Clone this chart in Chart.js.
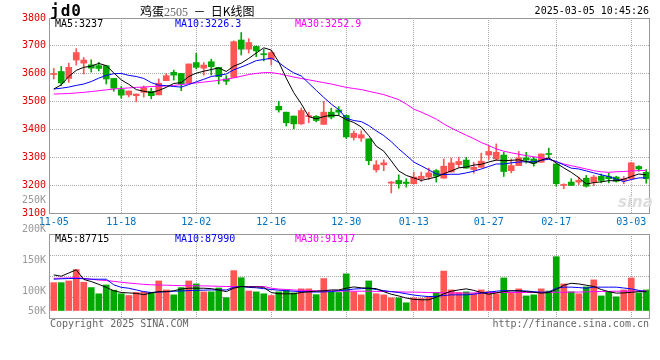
<!DOCTYPE html>
<html>
<head>
<meta charset="utf-8">
<script src="https://cdn.jsdelivr.net/npm/chart.js@4.4.1/dist/chart.umd.min.js"></script>
<style>
  body { margin: 0; background: #fff; }
  #wrap { position: relative; width: 660px; height: 360px; overflow: hidden;
          font-family: "DejaVu Sans Mono", monospace; font-size: 10px; }
  canvas { position: absolute; left: 0; top: 0; }
  .t { position: absolute; white-space: pre; line-height: 10px; }
</style>
</head>
<body>
<div id="wrap">
  <canvas id="volChart" width="660" height="360"></canvas>
  <canvas id="klineChart" width="660" height="360"></canvas>

  <div class="t" style="left:50px;top:3px;font-weight:bold;font-size:16px;line-height:16px;letter-spacing:1px;">jd0</div>
  <div class="t" style="left:140px;top:4px;font-size:12px;line-height:13px;font-family:'Noto Sans CJK SC';">鸡蛋<span style="color:#666;font-family:'Liberation Serif';font-size:12px;">2505</span>  －  日K线图</div>
  <div class="t" style="right:11px;top:6px;">2025-03-05 10:45:26</div>

  <div class="t" style="left:55px;top:19px;color:#000;">MA5:3237</div>
  <div class="t" style="left:175px;top:19px;color:#0000ff;">MA10:3226.3</div>
  <div class="t" style="left:295px;top:19px;color:#ff00ff;">MA30:3252.9</div>

  <div class="t" style="left:55px;top:234px;color:#000;">MA5:87715</div>
  <div class="t" style="left:175px;top:234px;color:#0000ff;">MA10:87990</div>
  <div class="t" style="left:295px;top:234px;color:#ff00ff;">MA30:91917</div>

  <div id="volLabels"></div>

  <div class="t" style="left:618px;top:193px;font:italic bold 15px 'DejaVu Sans';color:#ddd;">sina</div>

  <div class="t" style="left:50px;top:319px;color:#666;">Copyright 2025 SINA.COM</div>
  <div class="t" style="right:11px;top:319px;color:#666;">http://finance.sina.com.cn</div>
</div>

<script>
// trading days shown
const dates = [
  "11-05","11-06","11-07","11-08","11-11","11-12","11-13","11-14","11-15","11-18",
  "11-19","11-20","11-21","11-22","11-25","11-26","11-27","11-28","11-29","12-02",
  "12-03","12-04","12-05","12-06","12-09","12-10","12-11","12-12","12-13","12-16",
  "12-17","12-18","12-19","12-20","12-23","12-24","12-25","12-26","12-27","12-30",
  "12-31","01-02","01-03","01-06","01-07","01-08","01-09","01-10","01-13","01-14",
  "01-15","01-16","01-17","01-20","01-21","01-22","01-23","01-24","01-27","02-05",
  "02-06","02-07","02-10","02-11","02-12","02-13","02-14","02-17","02-18","02-19",
  "02-20","02-21","02-24","02-25","02-26","02-27","02-28","03-03","03-04","03-05"
];
const shownDates = ["11-05","11-18","12-02","12-16","12-30","01-13","01-27","02-17","03-03"];

const opens = [3597,3608,3583,3649,3638,3632,3629,3629,3583,3543,
  3524,3521,3533,3537,3524,3575,3605,3601,3566,3640,
  3620,3643,3623,3581,3587,3721,3688,3698,3670,3652,
  3483,3462,3448,3420,3446,3447,3418,3462,3470,3450,
  3371,3369,3366,3255,3273,3207,3217,3211,3205,3223,
  3229,3252,3225,3247,3274,3290,3256,3264,3308,3294,
  3308,3252,3270,3298,3294,3282,3313,3276,3199,3211,
  3211,3225,3211,3232,3231,3229,3217,3223,3267,3246];
const closes = [3600,3567,3623,3676,3649,3620,3619,3581,3548,3523,
  3538,3527,3550,3521,3566,3593,3595,3563,3635,3623,
  3631,3625,3589,3573,3715,3688,3712,3682,3668,3676,
  3470,3424,3420,3468,3448,3432,3462,3444,3462,3373,
  3386,3381,3288,3273,3280,3211,3205,3206,3229,3232,
  3244,3232,3268,3280,3285,3261,3264,3286,3321,3318,
  3249,3270,3298,3290,3279,3312,3310,3205,3202,3199,
  3217,3196,3229,3217,3223,3214,3223,3280,3258,3223];
const highs = [3619,3626,3638,3690,3658,3650,3641,3629,3583,3554,
  3538,3527,3556,3548,3581,3601,3613,3601,3635,3673,
  3640,3652,3623,3593,3718,3748,3726,3700,3688,3682,
  3501,3462,3448,3477,3462,3450,3501,3476,3482,3452,
  3395,3395,3366,3288,3291,3213,3237,3223,3247,3247,
  3261,3256,3294,3297,3300,3300,3282,3315,3342,3348,
  3318,3294,3321,3318,3300,3312,3333,3276,3205,3223,
  3229,3235,3235,3240,3243,3232,3231,3282,3270,3256];
const lows = [3581,3557,3569,3631,3599,3606,3610,3563,3537,3512,
  3517,3499,3516,3510,3524,3575,3577,3539,3566,3617,
  3595,3595,3563,3561,3587,3667,3674,3661,3646,3631,
  3462,3412,3402,3418,3424,3427,3418,3438,3452,3367,
  3362,3357,3273,3247,3252,3172,3189,3193,3205,3213,
  3220,3211,3225,3247,3264,3261,3243,3264,3292,3288,
  3231,3244,3270,3279,3268,3282,3296,3196,3187,3199,
  3202,3193,3199,3208,3208,3211,3205,3223,3250,3207];

const ma5 = [3545,3560,3590,3612,3623,3627,3637,3629,3603,3578,
  3562,3543,3537,3532,3540,3551,3565,3568,3590,3602,
  3609,3615,3621,3608,3627,3638,3655,3674,3693,3685,
  3642,3584,3532,3492,3446,3438,3446,3451,3450,3435,
  3425,3409,3378,3340,3322,3287,3251,3235,3226,3217,
  3223,3229,3241,3251,3262,3265,3272,3275,3283,3290,
  3288,3289,3291,3285,3277,3290,3298,3279,3262,3246,
  3227,3204,3209,3212,3216,3216,3221,3231,3240,3237];
const ma10 = [3545,3548,3552,3558,3563,3572,3584,3594,3600,3601,
  3594,3590,3583,3568,3559,3557,3554,3552,3561,3571,
  3580,3590,3594,3599,3614,3624,3635,3647,3651,3656,
  3640,3620,3603,3592,3566,3540,3515,3491,3471,3440,
  3432,3428,3414,3395,3378,3356,3330,3307,3283,3269,
  3255,3240,3238,3239,3239,3244,3250,3258,3267,3276,
  3276,3280,3283,3284,3284,3289,3293,3285,3273,3261,
  3258,3251,3244,3237,3231,3221,3213,3220,3226,3226.3];
const ma30 = [3527,3528,3529,3531,3533,3536,3539,3542,3545,3547,
  3549,3551,3552,3554,3555,3556,3558,3561,3564,3567,
  3570,3573,3576,3580,3585,3591,3597,3601,3604,3604,
  3600,3594,3588,3583,3578,3573,3568,3563,3557,3551,
  3547,3543,3537,3531,3525,3516,3507,3491,3473,3462,
  3450,3437,3420,3405,3392,3379,3367,3353,3342,3330,
  3322,3316,3311,3306,3302,3298,3294,3284,3276,3270,
  3264,3258,3252,3248,3246,3248,3249,3251,3252,3252.9];

const volumes = [130000,130000,138000,191000,132000,107000,78000,119000,95000,78000,
  70000,84000,87000,85000,138000,96000,73000,107000,138000,124000,
  87000,87000,105000,60000,186000,153000,91000,87000,78000,70000,
  87000,96000,82000,101000,101000,74000,149000,85000,84000,171000,
  87000,73000,138000,78000,73000,59000,59000,36000,59000,56000,
  64000,84000,184000,96000,84000,87000,79000,96000,88000,78000,
  152000,84000,101000,68000,73000,101000,91000,251000,124000,87000,
  78000,110000,143000,68000,87000,64000,96000,152000,82000,96000];
const volMa5 = [166000,160000,175000,190000,145000,135000,122000,108000,92000,84000,
  82000,80000,74000,82000,88000,88000,92000,100000,104000,104000,
  104000,102000,96000,88000,104000,112000,110000,110000,108000,84000,
  78000,78000,78000,84000,88000,90000,92000,96000,96000,104000,
  110000,106000,104000,102000,88000,76000,68000,58000,52000,50000,
  50000,62000,78000,90000,96000,101000,94000,84000,76000,82000,
  88000,92000,92000,88000,85000,81000,84000,98000,118000,127000,
  124000,118000,112000,98000,88000,81000,82000,85000,88000,87715];
const volMa10 = [146000,148000,149000,150000,148000,146000,146000,146000,120000,108000,
  104000,96000,88000,84000,86000,88000,90000,91000,93000,94000,
  95000,96000,96000,96000,108000,112000,108000,106000,102000,98000,
  95000,92000,90000,88000,87000,86000,87000,88000,92000,96000,
  100000,102000,104000,98000,93000,88000,84000,78000,72000,68000,
  65000,66000,70000,73000,73000,73000,76000,81000,86000,90000,
  93000,92000,92000,91000,88000,85000,86000,104000,109000,109000,
  107000,104000,109000,109000,109000,109000,105000,101000,94000,87990];
const volMa30 = [150000,151000,152000,153000,150000,146000,142000,140000,136000,132000,
  128000,125000,122000,120000,119000,118000,117000,116000,116000,115000,
  115000,114000,113000,112000,112000,112000,112000,112000,112000,104000,
  100000,98000,96000,94000,93000,92000,92000,92000,91000,91000,
  90000,90000,90000,89000,89000,88000,87000,86000,86000,85000,
  84000,83000,83000,82000,81000,81000,82000,83000,84000,84000,
  84000,84000,84000,84000,84000,85000,85000,85000,85000,86000,
  86000,87000,88000,89000,89000,90000,90000,91000,91000,91917];

const volTickLabels = ["250K", "200K", "150K", "100K", "50K"];

// ------------------------------------------------------------------
const UP = "#ff5555";
const DOWN = "#00a800";
const GRID = "#a8a8a8";
const MONO = "DejaVu Sans Mono";

const isUp = (i) => closes[i] >= opens[i];
const candleColor = (c) => (isUp(c.dataIndex) ? UP : DOWN);
const vGridColor = (c) => {
  const d = dates[c.index];
  return d && d !== dates[0] && shownDates.includes(d) ? GRID : "rgba(0,0,0,0)";
};

// solid frame round the plot area
const framePlugin = {
  id: "frame",
  afterDraw(chart) {
    const { ctx, chartArea: { left, top, right, bottom } } = chart;
    ctx.save();
    ctx.strokeStyle = "#999";
    ctx.lineWidth = 1;
    ctx.strokeRect(Math.round(left) - 0.5, Math.round(top) + 0.5,
      Math.round(right - left), Math.round(bottom - top));
    ctx.restore();
  },
};

function maLine(label, data, color) {
  return {
    type: "line", label, data,
    borderColor: color, borderWidth: 1,
    pointRadius: 0, tension: 0, order: 0,
  };
}

new Chart(document.getElementById("klineChart"), {
  type: "bar",
  data: {
    labels: dates,
    datasets: [
      maLine("MA5", ma5, "#000000"),
      maLine("MA10", ma10, "#0000ff"),
      maLine("MA30", ma30, "#ff00ff"),
      {
        label: "body",
        data: opens.map((o, i) => [o, closes[i]]),
        backgroundColor: candleColor,
        barThickness: 6, minBarLength: 1, grouped: false, order: 1,
      },
      {
        label: "wick",
        data: lows.map((l, i) => [l, highs[i]]),
        backgroundColor: candleColor,
        barThickness: 1, grouped: false, order: 2,
      },
    ],
  },
  options: {
    responsive: false,
    animation: false,
    layout: { padding: { top: 18, left: 0, right: 10, bottom: 127 } },
    plugins: { legend: { display: false }, tooltip: { enabled: false } },
    scales: {
      x: {
        offset: true,
        grid: { offset: false, color: vGridColor, drawTicks: false },
        border: { display: false, dash: [1, 1] },
        ticks: {
          autoSkip: false, maxRotation: 0, padding: 3,
          color: "#0070c0", font: { family: MONO, size: 10 },
          callback: (v, i) => (shownDates.includes(dates[i]) ? dates[i] : ""),
        },
        afterFit: (s) => { s.height = 20; },
      },
      y: {
        min: 3100, max: 3800,
        ticks: {
          stepSize: 100, padding: 4, color: "#e00000", font: { family: MONO, size: 10 },
          callback: (v) => String(v),
        },
        grid: { color: GRID, drawTicks: false },
        border: { display: false, dash: [1, 1] },
        afterFit: (s) => { s.width = 50; },
      },
    },
  },
  plugins: [framePlugin],
});

const VOL_MIN = -35000, VOL_MAX = 357000;

new Chart(document.getElementById("volChart"), {
  type: "bar",
  data: {
    labels: dates,
    datasets: [
      maLine("MA5", volMa5, "#000000"),
      maLine("MA10", volMa10, "#0000ff"),
      maLine("MA30", volMa30, "#ff00ff"),
      {
        label: "volume",
        data: volumes,
        backgroundColor: (c) => (isUp(c.dataIndex) ? UP : DOWN),
        barThickness: 6, order: 1,
      },
    ],
  },
  options: {
    responsive: false,
    animation: false,
    layout: { padding: { top: 234, left: 0, right: 10, bottom: 42 } },
    plugins: { legend: { display: false }, tooltip: { enabled: false } },
    scales: {
      x: {
        offset: true,
        grid: { offset: false, color: vGridColor, drawTicks: false },
        border: { display: false, dash: [1, 1] },
        ticks: { display: false, autoSkip: false },
        afterFit: (s) => { s.height = 0; },
      },
      y: {
        min: VOL_MIN, max: VOL_MAX,
        afterBuildTicks: (s) => {
          s.ticks = [0, 1, 2, 3, 4].map((k) => ({ value: VOL_MIN + (k * (VOL_MAX - VOL_MIN)) / 4 }));
        },
        ticks: { display: false },
        grid: { color: GRID, drawTicks: false },
        border: { display: false, dash: [1, 1] },
        afterFit: (s) => { s.width = 50; },
      },
    },
  },
  plugins: [framePlugin],
});

// volume axis labels (sina spaces them apart from the grid)
const volLabelTops = [195, 224, 255, 286, 306];
document.getElementById("volLabels").innerHTML = volTickLabels
  .map((t, i) => `<div class="t" style="right:614px;top:${volLabelTops[i]}px;color:#999;">${t}</div>`)
  .join("");
</script>
</body>
</html>
